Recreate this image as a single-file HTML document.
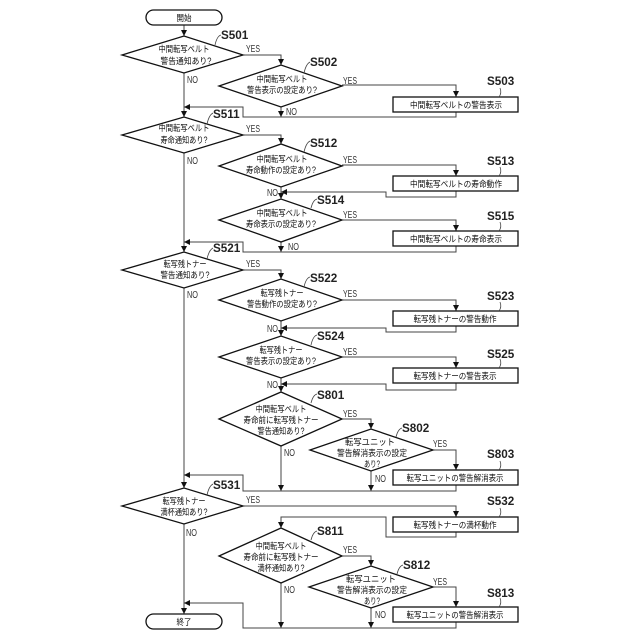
<!DOCTYPE html>
<html><head><meta charset="utf-8"><style>
html,body{margin:0;padding:0;background:#fff}
svg{display:block}
.j{font-family:"Liberation Sans","Noto Sans CJK JP",sans-serif;font-size:8.8px;fill:#111;text-anchor:middle}
.l{font-family:"Liberation Sans",sans-serif;font-size:11.7px;font-weight:bold;fill:#222}
.y{font-family:"Liberation Sans",sans-serif;font-size:10.5px;fill:#333}
.c{fill:none;stroke:#444;stroke-width:1}
.s{fill:#fff;stroke:#111;stroke-width:1.3}
.q{fill:none;stroke:#444;stroke-width:.8}
</style></head><body>
<svg width="640" height="640" viewBox="0 0 640 640" xmlns="http://www.w3.org/2000/svg">
<defs><marker id="a" markerUnits="userSpaceOnUse" markerWidth="7" markerHeight="7" refX="6" refY="3" orient="auto"><path d="M0 0L6 3L0 6z" fill="#111"/></marker></defs>

<g class="c">
<path d="M184 25V36" marker-end="url(#a)"/>
<path d="M184 73V117" marker-end="url(#a)"/>
<path d="M184 153V252" marker-end="url(#a)"/>
<path d="M184 288V488" marker-end="url(#a)"/>
<path d="M184 524V614" marker-end="url(#a)"/>
<path d="M243 55H281V65" marker-end="url(#a)"/>
<path d="M342 85H456V97" marker-end="url(#a)"/>
<path d="M281 107V117" marker-end="url(#a)"/>
<path d="M456 112V117H243V107H184" marker-end="url(#a)"/>
<path d="M243 135H281V144" marker-end="url(#a)"/>
<path d="M342 165H456V176" marker-end="url(#a)"/>
<path d="M281 187V199" marker-end="url(#a)"/>
<path d="M456 191V197H386V192H281" marker-end="url(#a)"/>
<path d="M342 220H456V231" marker-end="url(#a)"/>
<path d="M281 242V252" marker-end="url(#a)"/>
<path d="M456 246V252H243V242H184" marker-end="url(#a)"/>
<path d="M243 270H281V279" marker-end="url(#a)"/>
<path d="M342 300H456V311" marker-end="url(#a)"/>
<path d="M281 321V336" marker-end="url(#a)"/>
<path d="M456 326V332H386V328H281" marker-end="url(#a)"/>
<path d="M342 357H456V368" marker-end="url(#a)"/>
<path d="M281 378V392" marker-end="url(#a)"/>
<path d="M456 383V390H386V384H281" marker-end="url(#a)"/>
<path d="M342 419H371V429" marker-end="url(#a)"/>
<path d="M433 450H456V470" marker-end="url(#a)"/>
<path d="M281 446V491" marker-end="url(#a)"/>
<path d="M371 471V491" marker-end="url(#a)"/>
<path d="M456 485V491H243V475H184" marker-end="url(#a)"/>
<path d="M243 506H456V517" marker-end="url(#a)"/>
<path d="M456 532V537H386V517H281V528" marker-end="url(#a)"/>
<path d="M342 556H371V566" marker-end="url(#a)"/>
<path d="M433 587H456V607" marker-end="url(#a)"/>
<path d="M281 583V628" marker-end="url(#a)"/>
<path d="M371 608V628" marker-end="url(#a)"/>
<path d="M456 622V628H243V603H184" marker-end="url(#a)"/>
</g>

<g class="s">
<rect x="146" y="10" width="76" height="15" rx="7.5"/>
<rect x="146" y="614" width="76" height="15" rx="7.5"/>
<path d="M122 55L184 36L243 55L184 73z"/>
<path d="M219 86L281 65L342 86L281 107z"/>
<path d="M122 135L184 117L243 135L184 153z"/>
<path d="M219 166L281 144L342 166L281 187z"/>
<path d="M219 220L281 199L342 220L281 242z"/>
<path d="M122 270L184 252L243 270L184 288z"/>
<path d="M219 300L281 279L342 300L281 321z"/>
<path d="M219 357L281 336L342 357L281 378z"/>
<path d="M219 419L281 392L342 419L281 446z"/>
<path d="M310 450L371 429L433 450L371 471z"/>
<path d="M122 506L184 488L243 506L184 524z"/>
<path d="M219 556L281 528L342 556L281 583z"/>
<path d="M309 587L371 566L433 587L371 608z"/>
<rect x="393" y="97" width="125" height="15"/>
<rect x="393" y="176" width="125" height="15"/>
<rect x="393" y="231" width="125" height="15"/>
<rect x="393" y="311" width="125" height="15"/>
<rect x="393" y="368" width="125" height="15"/>
<rect x="393" y="470" width="125" height="15"/>
<rect x="393" y="517" width="125" height="15"/>
<rect x="393" y="607" width="125" height="15"/>
</g>

<g class="j">
<text x="184" y="21" textLength="15" lengthAdjust="spacingAndGlyphs">開始</text>
<text x="184" y="625" textLength="15" lengthAdjust="spacingAndGlyphs">終了</text>
<text x="184" y="52" textLength="51" lengthAdjust="spacingAndGlyphs">中間転写ベルト</text>
<text x="186" y="64" textLength="51" lengthAdjust="spacingAndGlyphs">警告通知あり?</text>
<text x="282" y="82" textLength="51" lengthAdjust="spacingAndGlyphs">中間転写ベルト</text>
<text x="282" y="93" textLength="70" lengthAdjust="spacingAndGlyphs">警告表示の設定あり?</text>
<text x="184" y="131" textLength="51" lengthAdjust="spacingAndGlyphs">中間転写ベルト</text>
<text x="184" y="143" textLength="47" lengthAdjust="spacingAndGlyphs">寿命通知あり?</text>
<text x="282" y="162" textLength="51" lengthAdjust="spacingAndGlyphs">中間転写ベルト</text>
<text x="281" y="173" textLength="70" lengthAdjust="spacingAndGlyphs">寿命動作の設定あり?</text>
<text x="282" y="216" textLength="51" lengthAdjust="spacingAndGlyphs">中間転写ベルト</text>
<text x="281" y="227" textLength="70" lengthAdjust="spacingAndGlyphs">寿命表示の設定あり?</text>
<text x="185" y="267" textLength="43" lengthAdjust="spacingAndGlyphs">転写残トナー</text>
<text x="185" y="278" textLength="49" lengthAdjust="spacingAndGlyphs">警告通知あり?</text>
<text x="282" y="296" textLength="43" lengthAdjust="spacingAndGlyphs">転写残トナー</text>
<text x="282" y="307" textLength="70" lengthAdjust="spacingAndGlyphs">警告動作の設定あり?</text>
<text x="281" y="353" textLength="43" lengthAdjust="spacingAndGlyphs">転写残トナー</text>
<text x="281" y="364" textLength="70" lengthAdjust="spacingAndGlyphs">警告表示の設定あり?</text>
<text x="281" y="412" textLength="51" lengthAdjust="spacingAndGlyphs">中間転写ベルト</text>
<text x="281" y="423" textLength="75" lengthAdjust="spacingAndGlyphs">寿命前に転写残トナー</text>
<text x="281" y="434" textLength="47" lengthAdjust="spacingAndGlyphs">警告通知あり?</text>
<text x="370" y="445" textLength="50" lengthAdjust="spacingAndGlyphs">転写ユニット</text>
<text x="372" y="456" textLength="70" lengthAdjust="spacingAndGlyphs">警告解消表示の設定</text>
<text x="372" y="467" textLength="16" lengthAdjust="spacingAndGlyphs">あり?</text>
<text x="184" y="504" textLength="43" lengthAdjust="spacingAndGlyphs">転写残トナー</text>
<text x="184" y="515" textLength="47" lengthAdjust="spacingAndGlyphs">満杯通知あり?</text>
<text x="281" y="549" textLength="51" lengthAdjust="spacingAndGlyphs">中間転写ベルト</text>
<text x="281" y="560" textLength="75" lengthAdjust="spacingAndGlyphs">寿命前に転写残トナー</text>
<text x="281" y="571" textLength="47" lengthAdjust="spacingAndGlyphs">満杯通知あり?</text>
<text x="371" y="582" textLength="50" lengthAdjust="spacingAndGlyphs">転写ユニット</text>
<text x="372" y="593" textLength="70" lengthAdjust="spacingAndGlyphs">警告解消表示の設定</text>
<text x="372" y="604" textLength="16" lengthAdjust="spacingAndGlyphs">あり?</text>
<text x="456" y="108" textLength="92" lengthAdjust="spacingAndGlyphs">中間転写ベルトの警告表示</text>
<text x="456" y="187" textLength="92" lengthAdjust="spacingAndGlyphs">中間転写ベルトの寿命動作</text>
<text x="456" y="242" textLength="92" lengthAdjust="spacingAndGlyphs">中間転写ベルトの寿命表示</text>
<text x="455" y="322" textLength="83" lengthAdjust="spacingAndGlyphs">転写残トナーの警告動作</text>
<text x="455" y="379" textLength="83" lengthAdjust="spacingAndGlyphs">転写残トナーの警告表示</text>
<text x="455" y="481" textLength="97" lengthAdjust="spacingAndGlyphs">転写ユニットの警告解消表示</text>
<text x="455" y="528" textLength="83" lengthAdjust="spacingAndGlyphs">転写残トナーの満杯動作</text>
<text x="455" y="618" textLength="97" lengthAdjust="spacingAndGlyphs">転写ユニットの警告解消表示</text>
</g>

<g class="l">
<text x="221" y="39">S501</text>
<text x="310" y="66">S502</text>
<text x="487" y="85">S503</text>
<text x="213" y="118">S511</text>
<text x="310" y="147">S512</text>
<text x="487" y="165">S513</text>
<text x="317" y="204">S514</text>
<text x="487" y="220">S515</text>
<text x="213" y="252">S521</text>
<text x="310" y="282">S522</text>
<text x="487" y="300">S523</text>
<text x="317" y="340">S524</text>
<text x="487" y="358">S525</text>
<text x="317" y="399">S801</text>
<text x="402" y="432">S802</text>
<text x="487" y="458">S803</text>
<text x="213" y="489">S531</text>
<text x="487" y="505">S532</text>
<text x="317" y="535">S811</text>
<text x="403" y="569">S812</text>
<text x="487" y="597">S813</text>
</g>

<g class="q">
<path d="M215 45q2-9 6-10"/>
<path d="M304 73q2-9 6-11"/>
<path d="M207 124q2-9 6-11"/>
<path d="M304 152q2-9 6-11"/>
<path d="M311 208q2-8 6-9"/>
<path d="M207 259q2-9 6-11"/>
<path d="M304 287q2-9 6-10"/>
<path d="M311 345q2-9 6-10"/>
<path d="M311 403q2-8 6-9"/>
<path d="M396 437q2-8 6-9"/>
<path d="M207 495q2-9 6-11"/>
<path d="M311 540q2-8 6-9"/>
<path d="M397 574q2-8 6-9"/>
<path d="M499 97q3-4 1-9"/>
<path d="M499 176q3-4 1-9"/>
<path d="M499 231q3-4 1-9"/>
<path d="M499 311q3-4 1-9"/>
<path d="M499 368q3-4 1-9"/>
<path d="M499 470q3-4 1-9"/>
<path d="M499 517q3-4 1-9"/>
<path d="M499 607q3-4 1-9"/>
</g>

<g class="y">
<text x="246" y="52" textLength="14" lengthAdjust="spacingAndGlyphs">YES</text><text x="187" y="83" textLength="11" lengthAdjust="spacingAndGlyphs">NO</text>
<text x="343" y="84" textLength="14" lengthAdjust="spacingAndGlyphs">YES</text><text x="286" y="115" textLength="11" lengthAdjust="spacingAndGlyphs">NO</text>
<text x="246" y="132" textLength="14" lengthAdjust="spacingAndGlyphs">YES</text><text x="187" y="164" textLength="11" lengthAdjust="spacingAndGlyphs">NO</text>
<text x="343" y="163" textLength="14" lengthAdjust="spacingAndGlyphs">YES</text><text x="267" y="196" textLength="11" lengthAdjust="spacingAndGlyphs">NO</text>
<text x="343" y="218" textLength="14" lengthAdjust="spacingAndGlyphs">YES</text><text x="288" y="250" textLength="11" lengthAdjust="spacingAndGlyphs">NO</text>
<text x="246" y="267" textLength="14" lengthAdjust="spacingAndGlyphs">YES</text><text x="187" y="298" textLength="11" lengthAdjust="spacingAndGlyphs">NO</text>
<text x="343" y="297" textLength="14" lengthAdjust="spacingAndGlyphs">YES</text><text x="267" y="332" textLength="11" lengthAdjust="spacingAndGlyphs">NO</text>
<text x="343" y="355" textLength="14" lengthAdjust="spacingAndGlyphs">YES</text><text x="267" y="388" textLength="11" lengthAdjust="spacingAndGlyphs">NO</text>
<text x="343" y="417" textLength="14" lengthAdjust="spacingAndGlyphs">YES</text><text x="284" y="456" textLength="11" lengthAdjust="spacingAndGlyphs">NO</text>
<text x="433" y="447" textLength="14" lengthAdjust="spacingAndGlyphs">YES</text><text x="375" y="482" textLength="11" lengthAdjust="spacingAndGlyphs">NO</text>
<text x="246" y="503" textLength="14" lengthAdjust="spacingAndGlyphs">YES</text><text x="186" y="536" textLength="11" lengthAdjust="spacingAndGlyphs">NO</text>
<text x="343" y="553" textLength="14" lengthAdjust="spacingAndGlyphs">YES</text><text x="284" y="593" textLength="11" lengthAdjust="spacingAndGlyphs">NO</text>
<text x="433" y="585" textLength="14" lengthAdjust="spacingAndGlyphs">YES</text><text x="375" y="618" textLength="11" lengthAdjust="spacingAndGlyphs">NO</text>
</g>
</svg>
</body></html>
